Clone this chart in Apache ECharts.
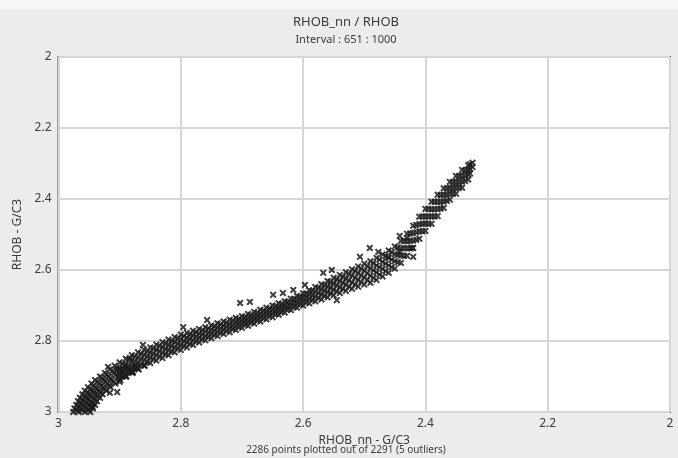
<!DOCTYPE html>
<html>
<head>
<meta charset="utf-8">
<script src="https://cdn.jsdelivr.net/npm/echarts@6/dist/echarts.min.js"></script>
<style>
html,body{margin:0;padding:0;background:#ececec;}
#chart{width:678px;height:458px;}
</style>
</head>
<body>
<div id="chart"></div>
<script>
// Chart texts
const titleText = 'RHOB_nn / RHOB';
const subtitleText = 'Interval : 651 : 1000';
const xAxisName = 'RHOB_nn - G/C3';
const yAxisName = 'RHOB - G/C3';
const footerText = '2286 points plotted out of 2291 (5 outliers)';
const axisMin = 2, axisMax = 3, axisStep = 0.2;

// Steep lower-left part of the point cloud [RHOB_nn, RHOB]
const steepPoints = [
[2.976,3.000],[2.967,3.000],[2.957,3.000],[2.948,3.000],
[2.970,2.995],[2.961,2.995],[2.951,2.995],
[2.974,2.990],[2.964,2.990],[2.954,2.990],[2.944,2.990],
[2.967,2.985],[2.957,2.985],[2.947,2.985],
[2.971,2.980],[2.961,2.980],[2.950,2.980],[2.940,2.980],
[2.964,2.975],[2.954,2.975],[2.944,2.975],
[2.968,2.970],[2.958,2.970],[2.947,2.970],[2.937,2.970],
[2.961,2.965],[2.951,2.965],[2.940,2.965],
[2.965,2.960],[2.954,2.960],[2.943,2.960],[2.932,2.960],
[2.957,2.955],[2.947,2.955],[2.936,2.955],
[2.961,2.950],[2.950,2.950],[2.939,2.950],[2.928,2.950],
[2.953,2.945],[2.942,2.945],[2.931,2.945],
[2.957,2.940],[2.945,2.940],[2.934,2.940],[2.922,2.940],
[2.948,2.935],[2.937,2.935],[2.925,2.935],
[2.952,2.930],[2.940,2.930],[2.927,2.930],[2.915,2.930],
[2.943,2.925],[2.930,2.925],[2.917,2.925],
[2.946,2.920],[2.933,2.920],[2.920,2.920],[2.907,2.920],
[2.936,2.915],[2.923,2.915],[2.910,2.915],
[2.940,2.910],[2.926,2.910],[2.913,2.910],[2.899,2.910],
[2.929,2.905],[2.915,2.905],[2.901,2.905],
[2.932,2.900],[2.918,2.900],[2.903,2.900],[2.889,2.900],
[2.921,2.895],[2.906,2.895],[2.891,2.895],
[2.924,2.890],[2.909,2.890],[2.894,2.890],[2.879,2.890],
[2.912,2.885],[2.897,2.885],[2.882,2.885],
[2.916,2.880],[2.900,2.880],[2.885,2.880],[2.869,2.880],
[2.904,2.875],[2.888,2.875],[2.872,2.875],
[2.908,2.870],[2.892,2.870],[2.875,2.870],[2.859,2.870]
];

// Flatter middle part of the cloud
const middlePoints = [
[2.900,2.860],[2.900,2.878],[2.900,2.897],[2.900,2.915],
[2.895,2.864],[2.895,2.881],[2.895,2.899],
[2.890,2.850],[2.890,2.867],[2.890,2.883],[2.890,2.900],
[2.885,2.853],[2.885,2.870],[2.885,2.886],
[2.880,2.840],[2.880,2.856],[2.880,2.872],[2.880,2.888],
[2.875,2.844],[2.875,2.859],[2.875,2.875],
[2.870,2.832],[2.870,2.847],[2.870,2.862],[2.870,2.877],
[2.865,2.836],[2.865,2.851],[2.865,2.866],
[2.860,2.825],[2.860,2.840],[2.860,2.854],[2.860,2.869],
[2.855,2.829],[2.855,2.844],[2.855,2.858],
[2.850,2.818],[2.850,2.833],[2.850,2.847],[2.850,2.862],
[2.845,2.821],[2.845,2.836],[2.845,2.851],
[2.840,2.810],[2.840,2.825],[2.840,2.840],[2.840,2.855],
[2.835,2.814],[2.835,2.829],[2.835,2.844],
[2.830,2.803],[2.830,2.818],[2.830,2.833],[2.830,2.848],
[2.825,2.807],[2.825,2.822],[2.825,2.837],
[2.820,2.796],[2.820,2.811],[2.820,2.825],[2.820,2.840],
[2.815,2.800],[2.815,2.814],[2.815,2.829],
[2.810,2.789],[2.810,2.803],[2.810,2.818],[2.810,2.832],
[2.805,2.793],[2.805,2.807],[2.805,2.821],
[2.800,2.782],[2.800,2.796],[2.800,2.811],[2.800,2.825],
[2.795,2.786],[2.795,2.800],[2.795,2.814],
[2.790,2.777],[2.790,2.791],[2.790,2.804],[2.790,2.818],
[2.785,2.781],[2.785,2.794],[2.785,2.808],
[2.780,2.771],[2.780,2.784],[2.780,2.798],[2.780,2.811],
[2.775,2.775],[2.775,2.788],[2.775,2.801],
[2.770,2.766],[2.770,2.779],[2.770,2.791],[2.770,2.804],
[2.765,2.770],[2.765,2.782],[2.765,2.795],
[2.760,2.761],[2.760,2.773],[2.760,2.786],[2.760,2.798],
[2.755,2.765],[2.755,2.777],[2.755,2.789],
[2.750,2.756],[2.750,2.768],[2.750,2.780],[2.750,2.792],
[2.745,2.759],[2.745,2.771],[2.745,2.783],
[2.740,2.750],[2.740,2.762],[2.740,2.774],[2.740,2.786],
[2.735,2.753],[2.735,2.765],[2.735,2.777],
[2.730,2.745],[2.730,2.757],[2.730,2.768],[2.730,2.780],
[2.725,2.748],[2.725,2.760],[2.725,2.772],
[2.720,2.740],[2.720,2.752],[2.720,2.763],[2.720,2.775],
[2.715,2.743],[2.715,2.755],[2.715,2.766],
[2.710,2.735],[2.710,2.746],[2.710,2.758],[2.710,2.769],
[2.705,2.738],[2.705,2.749],[2.705,2.760],
[2.700,2.730],[2.700,2.741],[2.700,2.752],[2.700,2.763],
[2.695,2.733],[2.695,2.744],[2.695,2.754],
[2.690,2.724],[2.690,2.735],[2.690,2.746],[2.690,2.757],
[2.685,2.727],[2.685,2.738],[2.685,2.748],
[2.680,2.718],[2.680,2.729],[2.680,2.740],[2.680,2.751],
[2.675,2.721],[2.675,2.732],[2.675,2.742],
[2.670,2.712],[2.670,2.723],[2.670,2.734],[2.670,2.745],
[2.665,2.715],[2.665,2.726],[2.665,2.736],
[2.660,2.706],[2.660,2.717],[2.660,2.728],[2.660,2.739],
[2.655,2.709],[2.655,2.720],[2.655,2.730],
[2.650,2.700],[2.650,2.711],[2.650,2.722],[2.650,2.733],
[2.645,2.702],[2.645,2.713],[2.645,2.724],
[2.640,2.694],[2.640,2.705],[2.640,2.715],[2.640,2.726],
[2.635,2.696],[2.635,2.707],[2.635,2.718],
[2.630,2.688],[2.630,2.699],[2.630,2.709],[2.630,2.720],
[2.625,2.690],[2.625,2.701],[2.625,2.711],
[2.620,2.681],[2.620,2.692],[2.620,2.702],[2.620,2.713],
[2.615,2.682],[2.615,2.693],[2.615,2.704],
[2.610,2.673],[2.610,2.684],[2.610,2.695],[2.610,2.706],
[2.605,2.675],[2.605,2.686],[2.605,2.697],
[2.600,2.666],[2.600,2.677],[2.600,2.689],[2.600,2.700],
[2.595,2.667],[2.595,2.679],[2.595,2.691],
[2.590,2.657],[2.590,2.669],[2.590,2.682],[2.590,2.694],
[2.585,2.659],[2.585,2.672],[2.585,2.685],
[2.580,2.648],[2.580,2.661],[2.580,2.675],[2.580,2.688],
[2.575,2.651],[2.575,2.665],[2.575,2.679],
[2.570,2.640],[2.570,2.654],[2.570,2.669],[2.570,2.683],
[2.565,2.643],[2.565,2.658],[2.565,2.673],
[2.560,2.631],[2.560,2.646],[2.560,2.662],[2.560,2.677],
[2.555,2.634],[2.555,2.650],[2.555,2.666],
[2.550,2.622],[2.550,2.638],[2.550,2.655],[2.550,2.671],
[2.545,2.626],[2.545,2.643],[2.545,2.660],
[2.540,2.614],[2.540,2.631],[2.540,2.648],[2.540,2.665],
[2.535,2.619],[2.535,2.636],[2.535,2.653],
[2.530,2.606],[2.530,2.624],[2.530,2.641],[2.530,2.659],
[2.525,2.611],[2.525,2.629],[2.525,2.647],
[2.520,2.598],[2.520,2.616],[2.520,2.635],[2.520,2.653],
[2.515,2.603],[2.515,2.622],[2.515,2.641],
[2.510,2.590],[2.510,2.609],[2.510,2.628],[2.510,2.647],
[2.505,2.596],[2.505,2.615],[2.505,2.634],
[2.500,2.582],[2.500,2.602],[2.500,2.621],[2.500,2.641],
[2.495,2.589],[2.495,2.609],[2.495,2.628],
[2.490,2.575],[2.490,2.595],[2.490,2.616],[2.490,2.636],
[2.485,2.581],[2.485,2.601],[2.485,2.622],
[2.480,2.566],[2.480,2.587],[2.480,2.607],[2.480,2.628],
[2.475,2.571],[2.475,2.592],[2.475,2.613],
[2.470,2.556],[2.470,2.577],[2.470,2.597],[2.470,2.618],
[2.465,2.561],[2.465,2.582],[2.465,2.603],
[2.460,2.545],[2.460,2.566],[2.460,2.587],[2.460,2.608],
[2.455,2.550],[2.455,2.571],[2.455,2.592],
[2.450,2.534],[2.450,2.555],[2.450,2.575],[2.450,2.596]
];

// Steep upper-right part of the cloud
const upperPoints = [
[2.445,2.536],[2.445,2.557],[2.445,2.578],
[2.440,2.518],[2.440,2.539],[2.440,2.559],[2.440,2.580],
[2.435,2.518],[2.435,2.539],[2.435,2.560],
[2.430,2.498],[2.430,2.519],[2.430,2.539],[2.430,2.560],
[2.425,2.497],[2.425,2.518],[2.425,2.539],
[2.420,2.475],[2.420,2.496],[2.420,2.517],[2.420,2.538],
[2.415,2.473],[2.415,2.494],[2.415,2.515],
[2.410,2.450],[2.410,2.471],[2.410,2.491],[2.410,2.512],
[2.405,2.449],[2.405,2.470],[2.405,2.491],
[2.400,2.428],[2.400,2.449],[2.400,2.469],[2.400,2.490],
[2.395,2.428],[2.395,2.449],[2.395,2.470],
[2.390,2.408],[2.390,2.429],[2.390,2.449],[2.390,2.470],
[2.385,2.408],[2.385,2.429],[2.385,2.449],
[2.380,2.388],[2.380,2.408],[2.380,2.428],[2.380,2.448],
[2.375,2.389],[2.375,2.408],[2.375,2.427],
[2.370,2.370],[2.370,2.388],[2.370,2.407],[2.370,2.425],
[2.365,2.370],[2.365,2.387],[2.365,2.405],
[2.360,2.352],[2.360,2.369],[2.360,2.385],[2.360,2.402],
[2.355,2.352],[2.355,2.369],[2.355,2.385],
[2.350,2.335],[2.350,2.352],[2.350,2.368],[2.350,2.385],
[2.345,2.335],[2.345,2.352],[2.345,2.368],
[2.340,2.318],[2.340,2.335],[2.340,2.351],[2.340,2.368],
[2.335,2.319],[2.335,2.334],[2.335,2.349],
[2.330,2.305],[2.330,2.318],[2.330,2.332],[2.330,2.345],
[2.327,2.302],[2.327,2.315],[2.327,2.328],
[2.323,2.298],[2.323,2.310]
];

// Scattered points away from the main band
const scatterPoints = [
[2.862,2.811],[2.883,2.848],[2.878,2.887],[2.919,2.873],[2.904,2.882],
[2.916,2.946],[2.904,2.944],[2.944,2.986],[2.796,2.761],[2.757,2.741],
[2.703,2.693],[2.687,2.690],[2.649,2.670],[2.633,2.665],[2.616,2.656],
[2.545,2.685],[2.491,2.538],[2.477,2.549],[2.442,2.549],[2.420,2.563],
[2.422,2.538],[2.461,2.563],[2.507,2.563],[2.567,2.608],[2.553,2.600],
[2.597,2.642],[2.442,2.504],[2.430,2.510]
];

const xMarker = 'path://M2,0L5,3L8,0L10,2L7,5L10,8L8,10L5,7L2,10L0,8L3,5L0,2Z';
const FONT = 'Noto Sans';
const TXT = '#3a3a3a';

const chart = echarts.init(document.getElementById('chart'), null, {renderer: 'canvas'});

function pointSeries(data) {
  return {
    type: 'scatter',
    data: data,
    symbol: xMarker,
    symbolSize: 7,
    clip: true,
    itemStyle: {color: '#1c1c1c', opacity: 0.85},
    emphasis: {disabled: true},
    silent: true
  };
}

chart.setOption({
  backgroundColor: '#ececec',
  animation: false,
  graphic: [
    {type: 'rect', left: 0, top: 0, shape: {width: 678, height: 9}, style: {fill: '#f8f8f8'}, z: -1},
    {type: 'text', x: 346, y: 22, style: {text: titleText, font: '13px "Noto Sans"', fill: TXT, textAlign: 'center', textVerticalAlign: 'middle'}},
    {type: 'text', x: 346, y: 40, style: {text: subtitleText, font: '11px "Noto Sans"', fill: TXT, textAlign: 'center', textVerticalAlign: 'middle'}},
    {type: 'text', x: 346, y: 450, style: {text: footerText, font: '10px "Noto Sans"', fill: TXT, textAlign: 'center', textVerticalAlign: 'middle'}}
  ],
  grid: {
    left: 58.5, right: 8, top: 57, bottom: 46,
    show: true, backgroundColor: '#ffffff', borderColor: '#555555', borderWidth: 2
  },
  xAxis: {
    type: 'value', min: axisMin, max: axisMax, interval: axisStep, inverse: true,
    name: xAxisName, nameLocation: 'middle', nameGap: 19,
    nameTextStyle: {fontFamily: FONT, fontSize: 12, color: TXT},
    axisLine: {show: false}, axisTick: {show: false},
    axisLabel: {fontFamily: FONT, fontSize: 12, color: TXT, margin: 6},
    splitLine: {show: true, lineStyle: {color: '#d6d6d6', width: 2}}
  },
  yAxis: {
    type: 'value', min: axisMin, max: axisMax, interval: axisStep, inverse: true,
    name: yAxisName, nameLocation: 'middle', nameGap: 30,
    nameTextStyle: {fontFamily: FONT, fontSize: 12, color: TXT},
    axisLine: {show: false}, axisTick: {show: false},
    axisLabel: {fontFamily: FONT, fontSize: 12, color: TXT, margin: 7},
    splitLine: {show: true, lineStyle: {color: '#d6d6d6', width: 2}}
  },
  series: [
    pointSeries(steepPoints),
    pointSeries(middlePoints),
    pointSeries(upperPoints),
    pointSeries(scatterPoints)
  ]
});
</script>
</body>
</html>
